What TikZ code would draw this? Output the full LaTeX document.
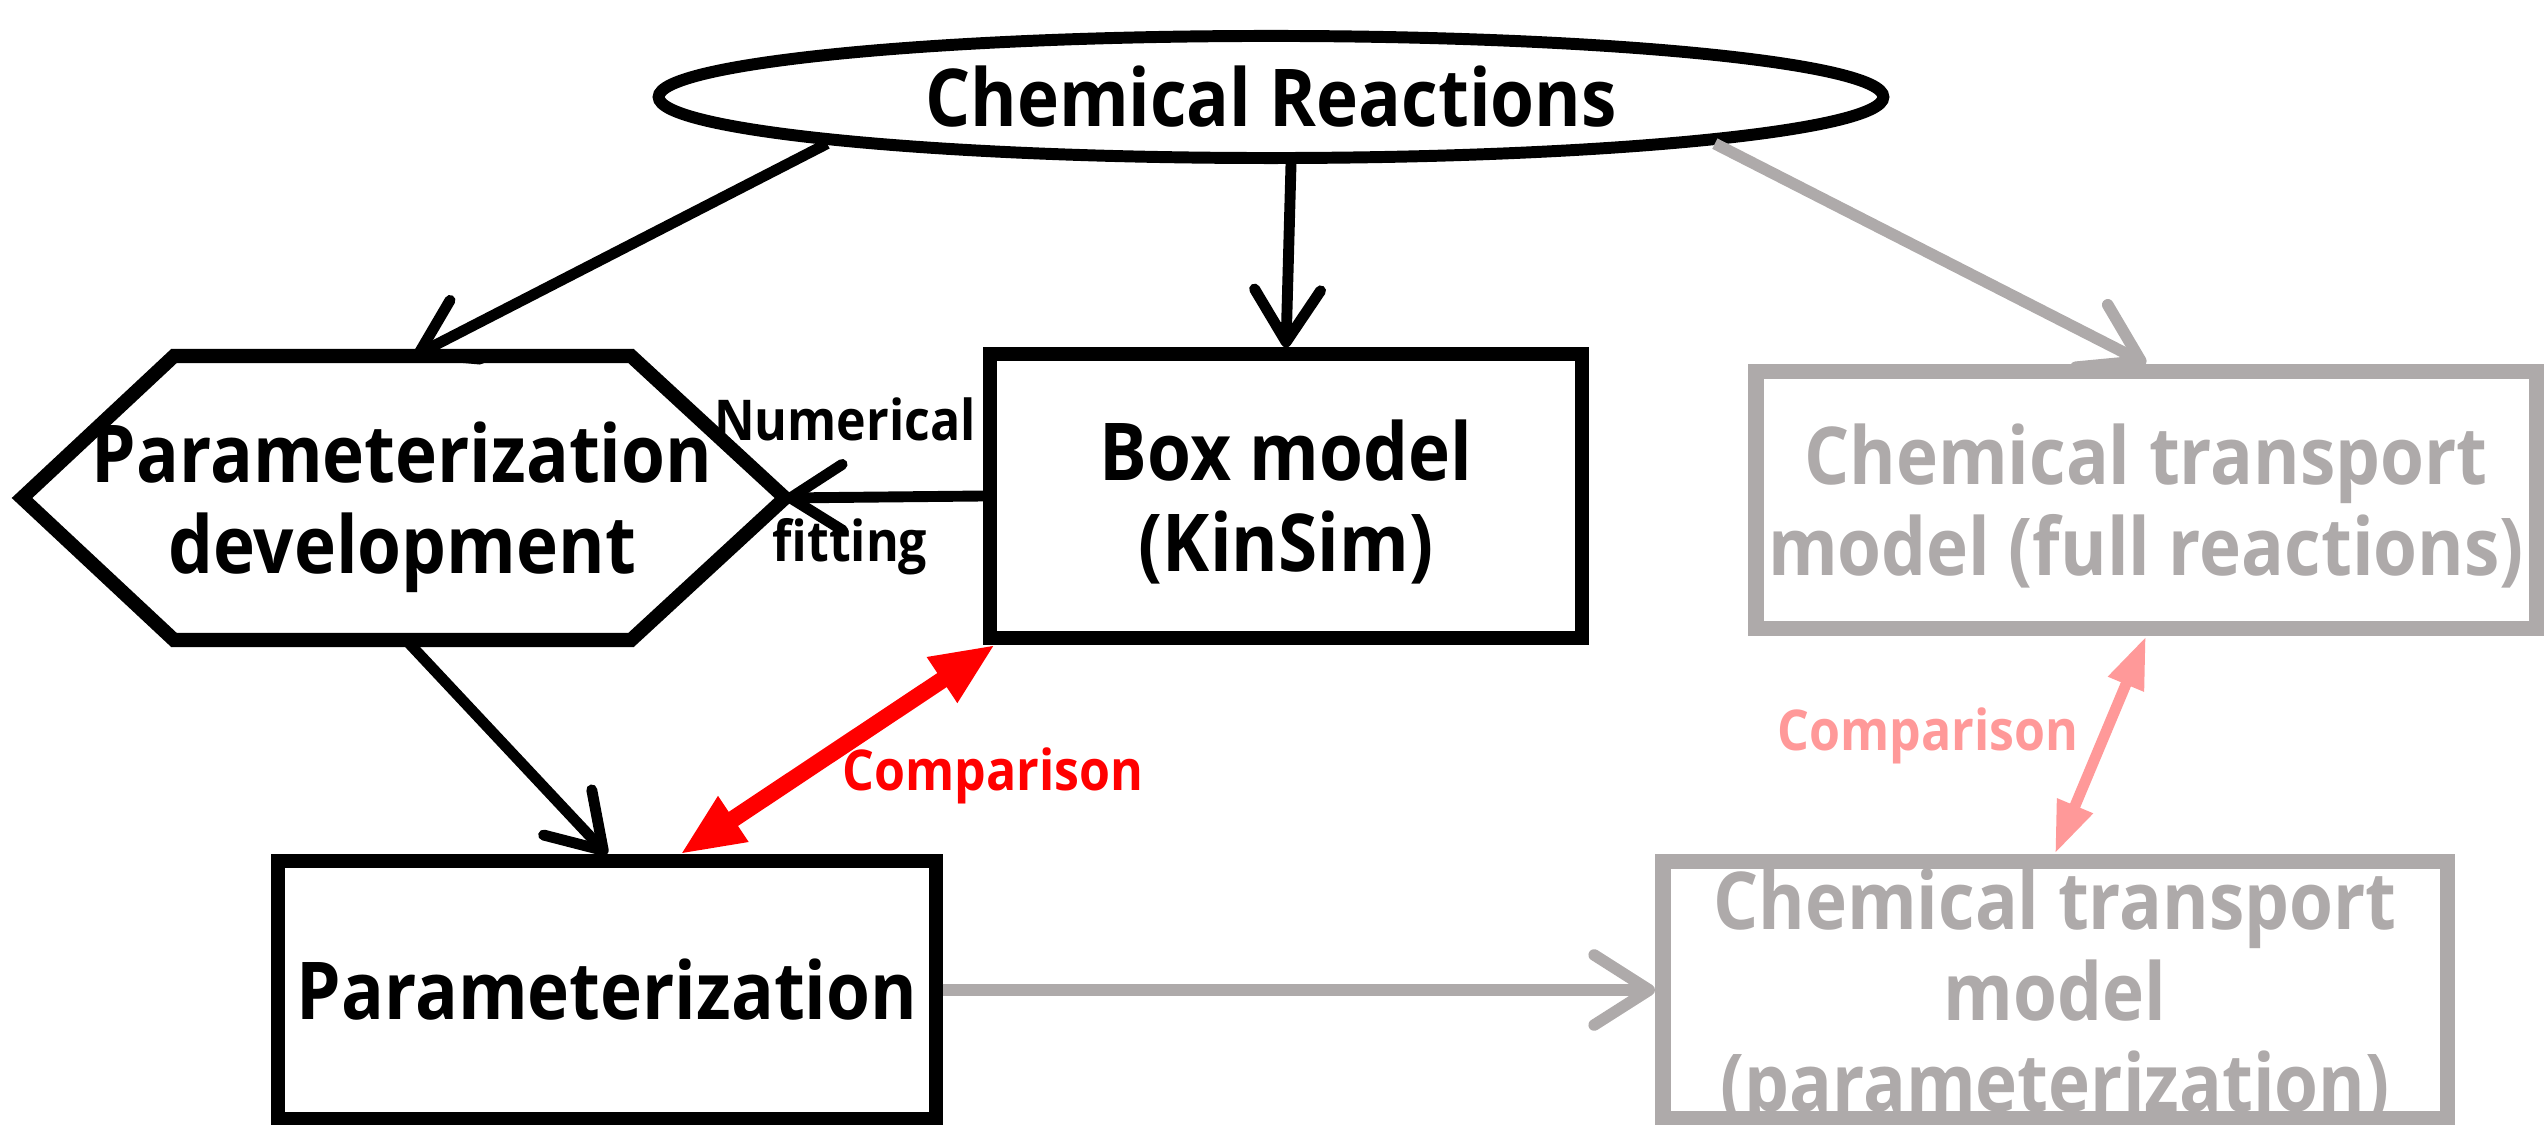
\documentclass[tikz,border=0pt]{standalone}
\usepackage{fontspec}
\setmainfont{Open Sans}[FakeStretch=0.89]
\usepackage{tikz}
\usetikzlibrary{arrows.meta,shapes.geometric,positioning,calc}
\definecolor{ctm-gray}{HTML}{AEAAAA}
\definecolor{cmp-red}{HTML}{FF0000}
\definecolor{cmp-pink}{HTML}{FF9999}
\newcommand{\boxfont}{\fontsize{22.7}{25.9}\selectfont\bfseries}
\newcommand{\tagfont}{\fontsize{16}{18}\selectfont\bfseries}

\begin{document}
\begin{tikzpicture}
  [x=0.01cm, y=-0.01cm,
   outline/.style = {draw, line width=4pt},
   model/.style = {outline, align=center, inner sep=0pt, font=\boxfont},
   lines/.style = {text depth=0pt},
   ctm model/.style = {model, lines, draw=ctm-gray, text=ctm-gray, line width=4.4pt},
   reactions/.style = {shape=ellipse, draw, line width=3.4pt, inner sep=0pt,
     minimum width=12.24cm, minimum height=1.22cm, font=\boxfont},
   tag/.style = {inner sep=0pt, font=\tagfont},
   post/.style = {->, line width=3.1pt,
     >={Straight Barb[length=0.52cm, width=0.66cm, round]}},
   gray post/.style = {post, ctm-gray, line width=3.3pt,
     >={Straight Barb[length=0.55cm, width=0.7cm, round]}},
   compare/.style = {line width=4.8pt, cmp-red,
     arrows={Triangle[length=0.64cm, width=0.5cm]-Triangle[length=0.64cm, width=0.5cm]}},
   pale compare/.style = {line width=3.1pt, cmp-pink,
     arrows={Triangle[length=0.52cm, width=0.36cm]-Triangle[length=0.52cm, width=0.36cm]}}]

  \useasboundingbox (0,0) rectangle (2547,1125);

  \node [reactions] (chem) at (1271,97) {Chemical Reactions};
  \node [model, lines, minimum width=5.91cm, minimum height=2.83cm] (kinsim)
  at (1286,496) {Box model\\(KinSim)};

  % hexagon drawn round its text
  \node [align=center, inner sep=0pt, font=\boxfont, lines]
  (pardev) at (402,498) {Parameterization\\development};
  \draw [outline] ([shift={(-228,-142)}]pardev.center)
  -- ([shift={(229,-142)}]pardev.center)
  -- ([shift={(383,0)}]pardev.center) coordinate (pardevtip)
  -- ([shift={(229,142)}]pardev.center)
  -- ([shift={(-228,142)}]pardev.center)
  -- ([shift={(-380,0)}]pardev.center) -- cycle;
  \coordinate (pardevtop) at ([shift={(12,-142)}]pardev.center);
  \coordinate (pardevbot) at ([shift={(4,142)}]pardev.center);

  \node [model, minimum width=6.57cm, minimum height=2.57cm]
  (param) at (607,990) {Parameterization};
  \node [ctm model, minimum width=7.80cm, minimum height=2.57cm] (ctmfull)
  at (2146,500) {Chemical transport\\model (full reactions)};
  \node [ctm model, minimum width=7.84cm, minimum height=2.57cm] (ctmparam)
  at (2055,990) {Chemical transport\\model\\(parameterization)};

  \node [tag] (numtxt) at (845,419) {Numerical};
  \node [tag] (fittxt) at (850,547) {fitting};
  \node [tag, text=cmp-red] (redtxt) at (993,776) {Comparison};
  \node [tag, text=cmp-pink] (pinktxt) at (1928,736) {Comparison};

  \draw [post] (chem.186) -- (pardevtop);
  \draw [post] ([xshift=0.2cm]chem.south) -- (kinsim.north);
  \draw [gray post] (chem.-6) -- (ctmfull.north);
  \draw [post] (kinsim.west) -- (pardevtip);
  \draw [post] (pardevbot) -- (param.north);
  \draw [compare] ([xshift=0.12cm]kinsim.south west) -- ([xshift=0.73cm]param.north);
  \draw [gray post] (param.east) -- (ctmparam.west);
  \draw [pale compare] (ctmfull.south) -- (ctmparam.north);
\end{tikzpicture}
\end{document}
